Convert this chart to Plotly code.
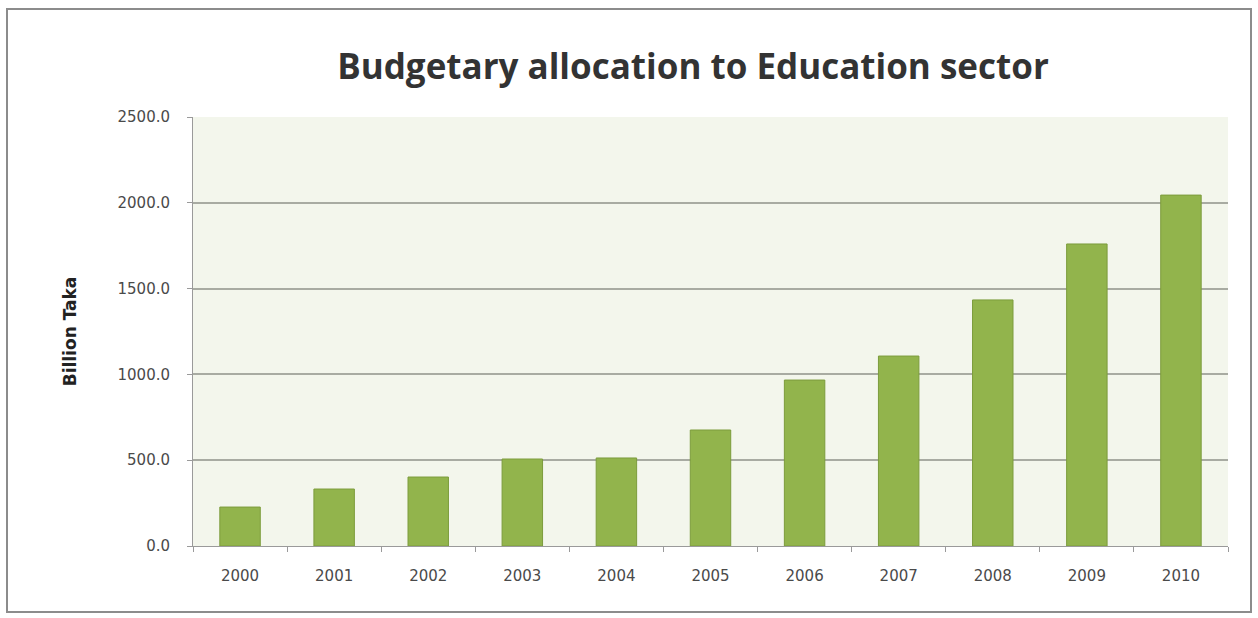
import plotly.graph_objects as go

years = ["2000", "2001", "2002", "2003", "2004", "2005", "2006", "2007", "2008", "2009", "2010"]
allocation = [227, 332, 402, 507, 513, 676, 967, 1107, 1434, 1760, 2045]
y_ticks = [0, 500, 1000, 1500, 2000, 2500]
y_tick_labels = ["0.0", "500.0", "1000.0", "1500.0", "2000.0", "2500.0"]

W, H = 1258, 618
ml, mr, mt, mb = 193, 30, 117, 72
pw, ph = W - ml - mr, H - mt - mb

fig = go.Figure()
fig.add_trace(go.Bar(
    x=years, y=allocation,
    marker=dict(color="#92b44c", line=dict(width=1, color="#7c9c3c")),
    hoverinfo="x+y",
))

def px_to_paper_x(px):
    return (px - ml) / pw

def px_to_paper_y(py):
    return (H - mb - py) / ph

tick_font = dict(family="DejaVu Sans, sans-serif", size=15, color="#4a4a4a")

fig.update_layout(
    width=W, height=H,
    margin=dict(l=ml, r=mr, t=mt, b=mb),
    paper_bgcolor="white",
    plot_bgcolor="#f3f6ec",
    bargap=0.57,
    showlegend=False,
    title=dict(
        text="<b>Budgetary allocation to Education sector</b>",
        x=693 / W, xanchor="center",
        y=1 - 67 / H, yanchor="middle",
        font=dict(family="Open Sans, Liberation Sans, sans-serif", size=35, color="#333333"),
    ),
    xaxis=dict(
        showgrid=False,
        showline=True, linecolor="#9a9a9a", linewidth=1,
        ticks="outside", tickson="boundaries", ticklen=5, tickcolor="#9a9a9a",
        tickfont=tick_font,
        ticklabelstandoff=16,
    ),
    yaxis=dict(
        range=[0, 2500],
        tickvals=y_ticks, ticktext=y_tick_labels,
        showgrid=True, gridcolor="#a8aba2", gridwidth=1.5,
        showline=True, linecolor="#9a9a9a", linewidth=1,
        ticks="outside", ticklen=5, tickcolor="#9a9a9a",
        tickfont=tick_font,
        ticklabelstandoff=14,
        zeroline=False,
        title=dict(text="<b>Billion Taka</b>", standoff=36,
                   font=dict(family="DejaVu Sans, sans-serif", size=17, color="#222222")),
    ),
    shapes=[
        dict(type="rect", xref="paper", yref="paper",
             x0=px_to_paper_x(7), x1=px_to_paper_x(1251),
             y0=px_to_paper_y(612), y1=px_to_paper_y(9),
             line=dict(color="#8c8c8c", width=2), fillcolor="rgba(0,0,0,0)", layer="below"),
    ],
)

fig.write_html("out.html")
